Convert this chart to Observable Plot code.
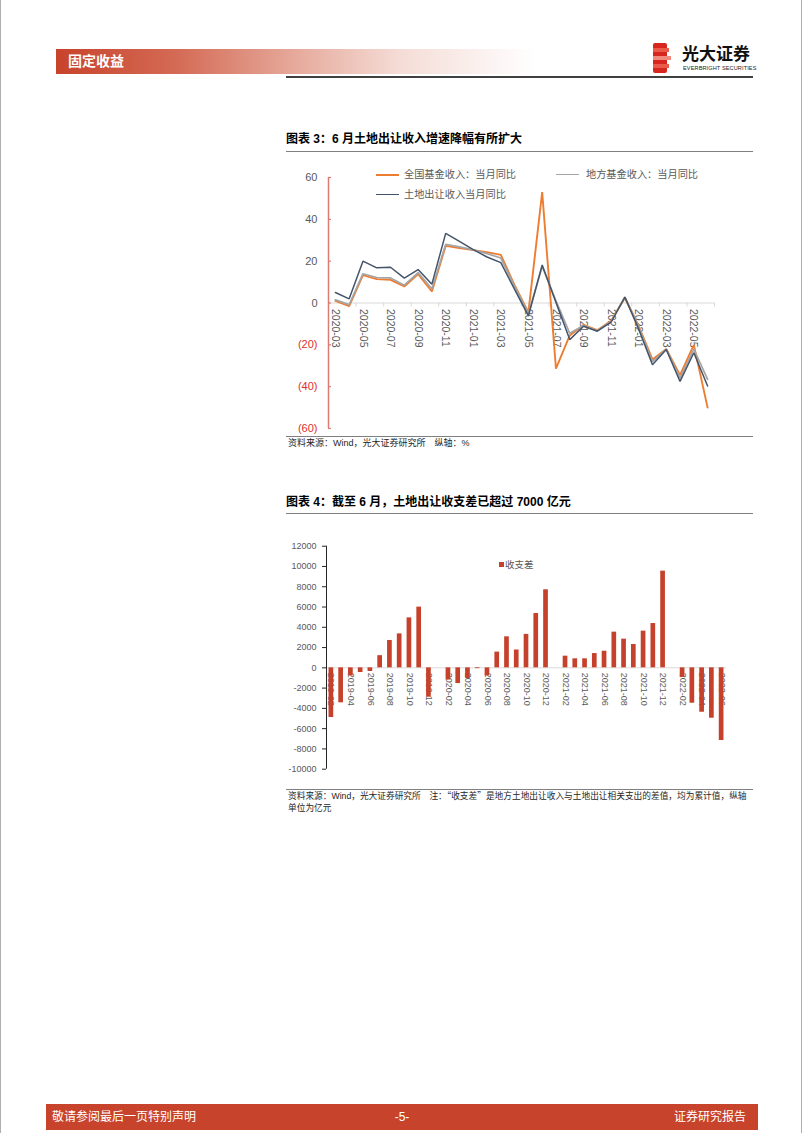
<!DOCTYPE html>
<html><head><meta charset="utf-8">
<script src="https://cdn.jsdelivr.net/npm/d3@7"></script>
<script src="https://cdn.jsdelivr.net/npm/@observablehq/plot@0.6"></script>
<style>
html,body{margin:0;padding:0;background:#fff;}
#page{position:relative;width:802px;height:1133px;overflow:hidden;background:#fff;font-family:"Liberation Sans","Noto Sans CJK SC",sans-serif;color:#000;box-sizing:border-box;border-left:1px solid #b0b0b0;border-right:1px solid #b0b0b0;}
.abs{position:absolute;white-space:nowrap;}
.title{font-size:12px;font-weight:bold;line-height:16px;color:#000;}
.rule{height:0;border-top:1px solid #7f7f7f;}
.src{font-size:9px;line-height:12.3px;color:#262626;}
.cjk{font-family:"Noto Sans CJK SC",sans-serif;}
.leg{font-size:10.2px;line-height:14px;color:#595959;}
.sw{position:absolute;height:0;border-top:2px solid;}
</style></head>
<body><div id="page">
  <!-- header -->
  <div class="abs" style="left:55px;top:49px;width:480px;height:25px;background:linear-gradient(to right,#c8432b 0%,#d46a55 25%,#e6aa9c 50%,#f5ddd7 72%,#ffffff 100%);"></div>
  <div class="abs" style="left:67px;top:49px;line-height:25px;font-size:14px;font-weight:bold;color:#fff;">固定收益</div>
  <svg class="abs" style="left:652px;top:43px" width="20" height="30" viewBox="0 0 20 30">
    <rect x="0" y="0" width="14" height="30" rx="2" fill="#d7261e"/>
    <rect x="0" y="5" width="16" height="4" fill="#e85a4a"/>
    <rect x="0" y="13" width="18" height="4" fill="#f08a7c"/>
    <rect x="0" y="21" width="16" height="4" fill="#e85a4a"/>
  </svg>
  <div class="abs" style="left:681px;top:44px;font-size:17px;font-weight:bold;line-height:22px;color:#111;">光大证券</div>
  <div class="abs" style="left:682px;top:64px;font-size:5.6px;line-height:8px;color:#222;letter-spacing:0.1px;">EVERBRIGHT SECURITIES</div>
  <div class="abs" style="left:285px;top:76px;width:467px;height:2px;background:#404040;"></div>

  <!-- chart 1 -->
  <div class="abs title" style="left:285px;top:131px;">图表 3：6 月土地出让收入增速降幅有所扩大</div>
  <div class="abs rule" style="left:285px;top:151px;width:467px;"></div>
  <div id="c1" class="abs" style="left:285px;top:160px;"></div>
  <div class="sw" style="left:375px;top:174px;width:23px;border-color:#ED7D31;"></div>
  <div class="abs leg" style="left:403px;top:168px;">全国基金收入：当月同比</div>
  <div class="sw" style="left:555px;top:174px;width:23px;border-top-width:1.5px;border-color:#A5A5A5;"></div>
  <div class="abs leg" style="left:585px;top:168px;">地方基金收入：当月同比</div>
  <div class="sw" style="left:375px;top:194px;width:23px;border-top-width:1.5px;border-color:#44546A;"></div>
  <div class="abs leg" style="left:403px;top:188px;">土地出让收入当月同比</div>
  <div class="abs rule" style="left:285px;top:436px;width:467px;"></div>
  <div class="abs src" style="left:287px;top:437px;">资料来源：Wind，光大证券研究所　纵轴：%</div>

  <!-- chart 2 -->
  <div class="abs title" style="left:285px;top:494px;">图表 4：截至 6 月，土地出让收支差已超过 7000 亿元</div>
  <div class="abs rule" style="left:285px;top:513px;width:467px;"></div>
  <div id="c2" class="abs" style="left:285px;top:535px;"></div>
  <div class="abs" style="left:498px;top:562px;width:5px;height:5px;background:#c5412b;"></div>
  <div class="abs" style="left:504px;top:558px;font-size:9.5px;line-height:14px;color:#595959;">收支差</div>
  <div class="abs rule" style="left:285px;top:789px;width:467px;"></div>
  <div class="abs src" style="left:287px;top:790px;font-size:8.7px;">资料来源：Wind，光大证券研究所　注：<span class="cjk">“</span>收支差<span class="cjk">”</span>是地方土地出让收入与土地出让相关支出的差值，均为累计值，纵轴<br>单位为亿元</div>

  <!-- footer -->
  <div class="abs" style="left:45px;top:1104px;width:712px;height:26px;background:#c8432b;"></div>
  <div class="abs" style="left:51px;top:1104px;line-height:26px;font-size:12px;color:#fff;">敬请参阅最后一页特别声明</div>
  <div class="abs" style="left:392px;top:1104px;width:18px;text-align:center;line-height:26px;font-size:12px;color:#fff;">-5-</div>
  <div class="abs" style="left:673px;top:1104px;line-height:26px;font-size:12px;color:#fff;">证券研究报告</div>
</div>
<script>
// ---------- Chart 1 data ----------
const months1 = ["2020-03","2020-04","2020-05","2020-06","2020-07","2020-08","2020-09","2020-10","2020-11","2020-12",
  "2021-01","2021-02","2021-03","2021-04","2021-05","2021-06","2021-07","2021-08","2021-09","2021-10","2021-11","2021-12",
  "2022-01","2022-02","2022-03","2022-04","2022-05","2022-06"];
const nationalFund = [1,-1.5,13.3,11.4,11.1,7.9,13.8,5.5,27.3,26.3,25.3,24.3,23,8.5,-4.5,53,-31.4,-15.5,-10.5,-13,-8.5,2.5,-11,-27,-22,-34.5,-20,-50];
const localFund = [1.5,-0.8,14,12.2,12,8.5,14.5,6.8,28,26.8,25.4,23.6,21.5,8,-5,17.5,1,-14.5,-10.8,-13.3,-8.8,2.8,-11.5,-28,-22,-36,-22,-36.5];
const landSale = [5,2,20,16.8,17.1,11.9,16,9,33.3,29.5,25.5,22,19.3,6.5,-6.2,18.2,0.3,-17.5,-11.1,-13.5,-9.2,2.8,-12.5,-29.5,-22.2,-37.5,-23.8,-39.7];
const yTicks1 = [60,40,20,0,-20,-40,-60];

// ---------- Chart 2 data ----------
const months2 = ["2019-02","2019-03","2019-04","2019-05","2019-06","2019-07","2019-08","2019-09","2019-10","2019-11","2019-12",
  "2020-01","2020-02","2020-03","2020-04","2020-05","2020-06","2020-07","2020-08","2020-09","2020-10","2020-11","2020-12",
  "2021-01","2021-02","2021-03","2021-04","2021-05","2021-06","2021-07","2021-08","2021-09","2021-10","2021-11","2021-12",
  "2022-01","2022-02","2022-03","2022-04","2022-05","2022-06"];
const balance = [-4900,-3450,-800,-460,-360,1200,2700,3350,4930,5990,-2900,
  null,-1200,-1550,-1050,-80,-800,1550,3060,1760,3300,5360,7700,
  null,1150,890,890,1410,1640,3520,2830,2300,3620,4370,9540,
  null,-950,-3490,-4380,-4970,-7170];
const yTicks2 = [12000,10000,8000,6000,4000,2000,0,-2000,-4000,-6000,-8000,-10000];

const FONT = '"Liberation Sans","Noto Sans CJK SC",sans-serif';

// ---------- Chart 1 ----------
const rows1 = months1.map((m, i) => ({i, m, a: nationalFund[i], b: localFund[i], c: landSale[i]}));
const n1 = months1.length;
const series1 = [
  {key: "a", color: "#ED7D31", w: 1.9},
  {key: "b", color: "#A5A5A5", w: 1.7},
  {key: "c", color: "#44546A", w: 1.5}
];
const chart1 = Plot.plot({
  width: 470, height: 275,
  marginLeft: 42, marginRight: 42, marginTop: 17, marginBottom: 7,
  x: {type: "linear", domain: [-0.5, n1 - 0.5], axis: null},
  y: {domain: [-60, 60], axis: null},
  style: {fontFamily: FONT, background: "transparent", overflow: "visible"},
  marks: [
    Plot.ruleY([0], {x1: -0.5, x2: n1 - 0.5, stroke: "#d9d9d9", strokeWidth: 1}),
    Plot.ruleX(d3.range(-0.5, n1 + 0.5, 2), {x: d => d, y1: 0, y2: -1.9, stroke: "#d9d9d9"}),
    Plot.text(d3.range(0, n1, 2), {x: d => d, y: () => 0, text: d => months1[d], rotate: 90, textAnchor: "start", dy: 6, fill: "#595959", fontSize: 10.5}),
    ...series1.map(s => Plot.line(rows1, {x: "i", y: s.key, stroke: s.color, strokeWidth: s.w, strokeLinejoin: "miter"})),
    Plot.ruleX([-0.5], {y1: -60, y2: 60, stroke: "#dc7b73", strokeWidth: 1.5}),
    Plot.ruleY(yTicks1, {x1: -0.5, x2: -0.5 + 0.22, stroke: "#dc7b73", strokeWidth: 1.2}),
    Plot.text(yTicks1, {x: () => -0.5, y: d => d, text: d => d < 0 ? `(${-d})` : `${d}`, fill: d => d < 0 ? "#e0302a" : "#595959", textAnchor: "end", dx: -11, fontSize: 11})
  ]
});
document.getElementById("c1").appendChild(chart1);

// ---------- Chart 2 ----------
const n2 = months2.length;
const rows2 = months2.map((m, i) => ({i, m, v: balance[i]})).filter(d => d.v != null);
const chart2 = Plot.plot({
  width: 470, height: 240,
  marginLeft: 40, marginRight: 30, marginTop: 10.7, marginBottom: 6.3,
  x: {type: "linear", domain: [-0.5, n2 - 0.5], axis: null},
  y: {domain: [-10000, 12000], axis: null},
  style: {fontFamily: FONT, background: "transparent", overflow: "visible"},
  marks: [
    Plot.ruleY([0], {x1: -0.5, x2: n2 - 0.5, stroke: "#d9d9d9"}),
    Plot.text(d3.range(0, n2, 2), {x: d => d, y: () => 0, text: d => months2[d], rotate: 90, textAnchor: "start", dy: 5, fill: "#595959", fontSize: 9}),
    Plot.rect(rows2, {x1: d => d.i - 0.24, x2: d => d.i + 0.24, y1: 0, y2: "v", fill: "#c5412b"}),
    Plot.ruleX([-0.5], {y1: -10000, y2: 12000, stroke: "#262626"}),
    Plot.ruleY(yTicks2, {x1: -0.5, x2: -0.5 - 0.41, stroke: "#262626"}),
    Plot.text(yTicks2, {x: () => -0.5, y: d => d, text: d => String(d), textAnchor: "end", dx: -10, fill: "#595959", fontSize: 9})
  ]
});
document.getElementById("c2").appendChild(chart2);
</script>
</body></html>
